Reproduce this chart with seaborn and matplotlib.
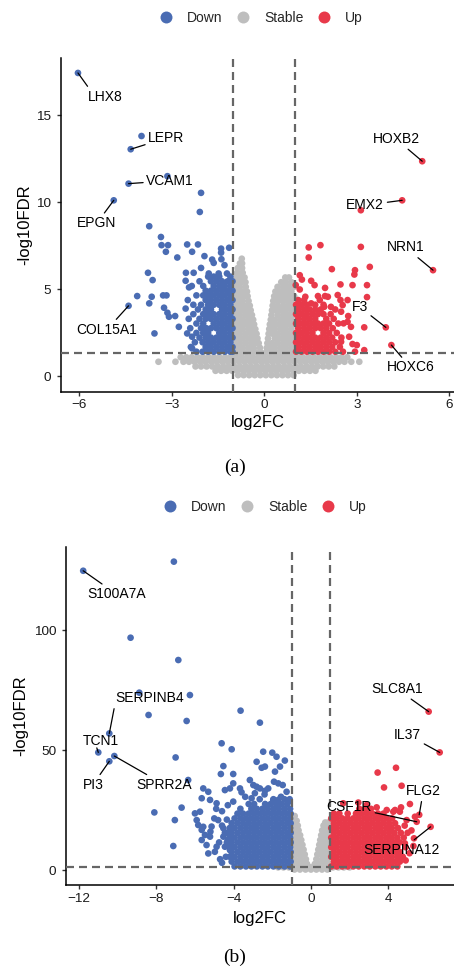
import matplotlib
matplotlib.use("Agg")
import matplotlib.pyplot as plt
from matplotlib.lines import Line2D
import pandas as pd
import seaborn as sns

# ---------------- Panel (a) data ----------------
# Stable genes: rows of (-log10FDR, [log2FC, ...]) read from the dense grey cloud
grey_a_rows = [
    (0.05, [-0.85, -0.67, -0.49, -0.31, -0.13, 0.05, 0.23, 0.41, 0.59, 0.77, 0.95]),
    (0.30, [-1.58, -1.40, -1.22, -1.04, -0.86, -0.68, -0.50, -0.32, -0.14, 0.04, 0.22, 0.40, 0.58, 0.76, 0.94, 1.12, 1.30, 1.48, 1.66]),
    (0.55, [-2.23, -2.05, -1.87, -1.69, -1.51, -1.33, -1.15, -0.97, -0.79, -0.61, -0.43, -0.25, -0.07, 0.11, 0.29, 0.47, 0.65, 0.83, 1.01, 1.19, 1.37, 1.55, 1.73, 1.91, 2.09, 2.27]),
    (0.82, [-3.43, -2.88, -2.62, -2.44, -2.26, -2.08, -1.90, -1.72, -1.54, -1.36, -1.18, -1.00, -0.82, -0.64, -0.46, -0.28, -0.10, 0.08, 0.26, 0.44, 0.62, 0.80, 0.98, 1.16, 1.34, 1.52, 1.70, 1.88, 2.06, 2.24, 2.42, 2.60, 2.82, 3.08]),
    (1.08, [-2.71, -2.53, -2.35, -2.17, -1.99, -1.81, -1.63, -1.45, -1.27, -1.09, -0.91, -0.73, -0.55, -0.37, -0.19, -0.01, 0.17, 0.35, 0.53, 0.71, 0.89, 1.07, 1.25, 1.43, 1.61, 1.79, 1.97, 2.15, 2.33, 2.51, 2.69]),
    (1.35, [-0.97, -0.79, -0.61, -0.43, -0.25, -0.11, 0.05, 0.25, 0.43, 0.61, 0.79, 0.97]),
    (1.62, [-0.88, -0.70, -0.52, -0.34, -0.14, 0.08, 0.16, 0.34, 0.52, 0.70, 0.88]),
    (1.89, [-0.97, -0.79, -0.61, -0.43, -0.30, -0.18, 0.10, 0.25, 0.43, 0.61, 0.79, 0.97]),
    (2.16, [-0.88, -0.70, -0.52, -0.36, -0.22, 0.12, 0.34, 0.52, 0.70, 0.88]),
    (2.43, [-0.97, -0.79, -0.61, -0.43, -0.25, 0.14, 0.27, 0.43, 0.61, 0.79, 0.97]),
    (2.70, [-0.88, -0.70, -0.52, -0.40, -0.29, 0.16, 0.34, 0.52, 0.70, 0.88]),
    (2.97, [-0.97, -0.79, -0.61, -0.46, -0.33, 0.18, 0.30, 0.43, 0.61, 0.79, 0.97]),
    (3.24, [-0.88, -0.70, -0.52, -0.36, 0.21, 0.34, 0.52, 0.70, 0.88]),
    (3.51, [-0.97, -0.79, -0.61, -0.50, -0.40, 0.23, 0.43, 0.61, 0.79, 0.97]),
    (3.78, [-0.88, -0.70, -0.56, -0.44, 0.25, 0.36, 0.52, 0.70, 0.88]),
    (4.05, [-0.97, -0.79, -0.62, -0.47, 0.27, 0.43, 0.61, 0.79, 0.97]),
    (4.32, [-0.88, -0.70, -0.51, 0.29, 0.43, 0.58, 0.73, 0.88]),
    (4.59, [-0.97, -0.79, -0.64, -0.54, 0.32, 0.46, 0.61, 0.79, 0.97]),
    (4.86, [-0.88, -0.72, -0.56, 0.36, 0.52, 0.70, 0.88]),
    (5.13, [-0.97, -0.79, -0.60, 0.43, 0.61, 0.79, 0.97]),
    (5.40, [-0.88, -0.74, -0.61, 0.55, 0.70, 0.88]),
    (5.67, [-0.97, -0.79, -0.64, 0.68, 0.80]),
    (5.94, [-0.88, -0.70]),
    (6.21, [-0.86, -0.72]),
    (6.48, [-0.79, -0.72]),
    (6.75, [-0.73]),
]
# Down-regulated genes: isolated points (log2FC, -log10FDR)
blue_a_pts = [
    (-6.04, 17.44), (-3.98, 13.81), (-4.33, 13.05), (-4.40, 11.07), (-3.14, 11.50), (-2.05, 10.54),
    (-2.09, 9.44), (-4.88, 10.11), (-3.73, 8.62), (-3.35, 8.00), (-3.33, 7.53), (-3.12, 7.53),
    (-3.19, 7.15), (-2.82, 6.82), (-2.50, 7.57), (-2.15, 7.57), (-2.34, 7.15), (-1.94, 6.90),
    (-1.64, 6.51), (-1.40, 7.33), (-1.14, 7.38), (-1.40, 7.10), (-1.39, 6.72), (-1.69, 6.70),
    (-1.29, 6.38), (-2.05, 6.22), (-1.80, 5.90), (-1.48, 5.90), (-1.21, 5.90), (-3.77, 5.94),
    (-3.62, 5.52), (-4.12, 4.60), (-3.65, 4.56), (-3.73, 4.18), (-3.28, 4.64), (-3.17, 4.64),
    (-3.25, 3.93), (-3.14, 3.64), (-2.89, 3.45), (-3.09, 3.41), (-2.77, 2.83), (-3.56, 2.45),
    (-2.54, 5.94), (-2.29, 5.94), (-2.55, 5.48), (-2.44, 5.10), (-2.55, 3.88), (-2.50, 2.45),
    (-2.34, 2.26), (-2.34, 1.59), (-4.40, 4.04),
]
# Down-regulated genes: dense cluster rows
blue_a_rows = [
    (1.40, [-2.20, -2.00, -1.82, -1.64, -1.46, -1.28, -1.10, -1.03]),
    (1.67, [-2.38, -1.90, -1.73, -1.55, -1.37, -1.19, -1.03]),
    (1.94, [-2.25, -2.00, -1.82, -1.64, -1.46, -1.28, -1.10]),
    (2.21, [-2.10, -1.90, -1.73, -1.55, -1.37, -1.19, -1.03]),
    (2.48, [-2.20, -1.98, -1.82, -1.46, -1.28, -1.10]),
    (2.75, [-2.40, -2.05, -1.88, -1.73, -1.55, -1.37, -1.19, -1.03]),
    (3.02, [-2.20, -1.98, -1.64, -1.46, -1.28, -1.10]),
    (3.29, [-2.45, -2.10, -1.90, -1.73, -1.55, -1.37, -1.19, -1.03]),
    (3.56, [-2.30, -1.98, -1.82, -1.64, -1.46, -1.28, -1.10]),
    (3.83, [-2.15, -1.90, -1.73, -1.37, -1.19, -1.03]),
    (4.10, [-2.30, -2.05, -1.82, -1.64, -1.46, -1.28, -1.10]),
    (4.37, [-2.48, -1.90, -1.73, -1.55, -1.37, -1.19, -1.03]),
    (4.64, [-2.20, -1.98, -1.82, -1.64, -1.46, -1.28, -1.10]),
    (4.91, [-1.90, -1.73, -1.55, -1.37, -1.19, -1.03]),
    (5.18, [-2.35, -1.98, -1.64, -1.46, -1.28, -1.10]),
    (5.45, [-2.10, -1.73, -1.55, -1.37, -1.19, -1.03]),
    (5.72, [-1.82, -1.64, -1.46, -1.10]),
]
# Up-regulated genes: isolated points
red_a_pts = [
    (5.12, 12.36), (4.47, 10.11), (3.13, 9.54), (5.47, 6.09), (3.94, 2.80), (4.12, 1.78),
    (1.44, 7.40), (1.82, 7.53), (1.44, 6.82), (3.13, 7.43), (2.19, 6.15), (2.94, 6.09),
    (3.42, 6.28), (2.92, 5.84), (1.22, 5.55), (1.52, 5.48), (1.63, 5.23), (1.97, 5.07),
    (2.47, 5.27), (2.86, 5.23), (3.33, 5.23), (1.15, 4.98), (1.15, 5.80), (1.02, 5.23),
    (1.33, 4.56), (1.74, 4.60), (1.97, 4.60), (2.06, 4.56), (2.38, 4.66), (2.47, 4.37),
    (2.70, 4.37), (3.33, 4.54), (2.54, 4.08), (1.52, 4.18), (1.94, 3.98), (2.16, 3.98),
    (2.49, 3.70), (2.72, 3.45), (2.70, 3.12), (2.57, 3.03), (2.81, 2.83), (3.24, 2.80),
    (2.75, 2.26), (2.49, 1.97), (2.86, 1.84), (3.00, 1.78), (2.94, 1.40), (3.24, 1.49),
]
red_a_rows = [
    (1.40, [1.03, 1.20, 1.38, 1.56, 1.74, 1.92, 2.10, 2.30, 2.55]),
    (1.67, [1.10, 1.29, 1.47, 1.65, 1.83, 2.01, 2.20, 2.45]),
    (1.94, [1.03, 1.20, 1.38, 1.56, 1.74, 1.92, 2.10, 2.30]),
    (2.21, [1.10, 1.29, 1.47, 1.65, 1.83, 2.01, 2.20, 2.50]),
    (2.48, [1.03, 1.20, 1.38, 1.56, 1.92, 2.10, 2.35]),
    (2.75, [1.10, 1.29, 1.47, 1.65, 1.83, 2.01, 2.22]),
    (3.02, [1.03, 1.20, 1.38, 1.56, 1.74, 1.92, 2.10, 2.40]),
    (3.29, [1.10, 1.29, 1.47, 1.65, 2.01, 2.25]),
    (3.56, [1.03, 1.20, 1.38, 1.56, 1.74, 1.92, 2.15]),
    (3.83, [1.10, 1.29, 1.47, 1.65, 1.83, 2.30]),
    (4.10, [1.03, 1.20, 1.38, 1.65, 1.92]),
    (4.37, [1.10, 1.29, 1.80]),
]
genes_a = ["LHX8", "LEPR", "VCAM1", "EPGN", "COL15A1", "HOXB2", "EMX2", "NRN1", "F3", "HOXC6"]
genes_a_fc = [-6.04, -4.33, -4.40, -4.88, -4.40, 5.12, 4.47, 5.47, 3.94, 4.12]
genes_a_fdr = [17.44, 13.05, 11.07, 10.11, 4.04, 12.36, 10.11, 6.09, 2.80, 1.78]

# ---------------- Panel (b) data ----------------
grey_b_rows = [
    (0.2, [-0.85, -0.57, -0.28, 0.00, 0.28, 0.57, 0.85]),
    (1.1, [-1.70, -1.42, -1.14, -0.86, -0.57, -0.28, 0.00, 0.28, 0.57, 0.86, 1.14, 1.42, 1.70, 2.00]),
    (2.5, [-0.97, -0.69, -0.41, -0.20, 0.20, 0.45, 0.72, 0.97]),
    (4.5, [-0.83, -0.55, -0.26, 0.28, 0.58, 0.86]),
    (6.5, [-0.97, -0.69, -0.45, -0.32, 0.33, 0.47, 0.72, 0.97]),
    (8.5, [-0.83, -0.58, -0.38, 0.38, 0.60, 0.86]),
    (10.5, [-0.97, -0.69, -0.44, 0.43, 0.70, 0.97]),
    (12.5, [-0.83, -0.64, -0.50, 0.48, 0.66, 0.86]),
    (14.5, [-0.97, -0.72, -0.56, 0.53, 0.75, 0.97]),
    (16.5, [-0.83, -0.64, 0.58, 0.80]),
    (18.5, [-0.97, -0.76, -0.68, 0.65, 0.85, 0.97]),
    (19.8, [0.74, 0.90]),
    (20.5, [-0.86, -0.74]),
    (22.5, [-0.97, -0.84]),
]
blue_b_pts = [
    (-11.78, 124.7), (-7.09, 128.5), (-9.33, 96.8), (-6.86, 87.5), (-8.88, 73.9), (-6.26, 72.9),
    (-8.40, 64.6), (-6.43, 62.1), (-3.64, 66.4), (-2.64, 61.4), (-10.43, 56.9), (-11.00, 49.0),
    (-10.43, 45.3), (-10.17, 47.5), (-7.00, 46.9), (-4.62, 52.8), (-4.10, 50.3), (-2.47, 49.3),
    (-2.00, 48.9), (-1.35, 45.6), (-1.78, 47.2), (-1.60, 43.1), (-2.81, 45.1), (-2.55, 42.6),
    (-2.38, 43.1), (-1.86, 41.0), (-4.53, 43.3), (-4.02, 40.0), (-4.66, 40.0), (-6.35, 37.5),
    (-3.16, 37.5), (-2.98, 35.4), (-2.81, 34.7), (-2.38, 33.0), (-1.91, 36.8), (-1.46, 35.4),
    (-1.26, 32.6), (-1.69, 29.2), (-3.67, 34.0), (-4.02, 36.1), (-4.45, 33.3), (-4.19, 34.0),
    (-5.57, 34.0), (-5.31, 32.6), (-5.65, 29.9), (-5.22, 29.2), (-4.88, 27.8), (-8.10, 24.0),
    (-7.04, 20.8), (-7.12, 10.0), (-6.69, 26.0), (-6.00, 23.6), (-5.91, 20.8), (-5.74, 24.3),
    (-3.59, 32.4), (-4.02, 28.5), (-5.83, 18.75), (-5.65, 16.7), (-5.57, 18.0), (-5.14, 18.1),
    (-4.80, 20.8), (-4.53, 17.4), (-5.48, 14.6), (-5.22, 13.9), (-5.65, 12.5), (-5.40, 10.4),
    (-4.88, 9.7), (-5.31, 6.9), (-4.97, 7.6), (-4.53, 13.9), (-4.45, 9.7), (-4.19, 8.3),
    (-2.64, 34.0), (-2.21, 34.0), (-1.69, 36.1), (-1.95, 29.2), (-3.07, 29.9), (-2.40, 31.5),
    (-1.55, 30.5), (-2.90, 32.0), (-3.40, 30.5), (-1.15, 28.5), (-4.40, 5.5), (-4.60, 3.0),
    (-4.30, 12.5), (-4.45, 15.5), (-4.35, 21.0), (-4.60, 24.5), (-4.30, 27.0), (-5.00, 21.5),
    (-4.90, 25.5), (-5.20, 16.0), (-4.75, 11.5), (-4.60, 18.5), (-4.70, 4.5),
]
blue_b_rows = [
    (1.5, [-3.95, -3.65, -3.36, -3.08, -2.80, -2.51, -2.23, -1.94, -1.66, -1.37, -1.08]),
    (3.5, [-4.10, -3.80, -3.51, -3.22, -2.94, -2.65, -2.37, -2.08, -1.80, -1.51, -1.23, -1.05]),
    (5.5, [-4.20, -3.95, -3.65, -3.36, -3.08, -2.80, -2.51, -2.23, -1.94, -1.66, -1.37, -1.08]),
    (7.5, [-4.10, -3.80, -3.51, -3.22, -2.94, -2.65, -2.37, -2.08, -1.80, -1.51, -1.23, -1.05]),
    (9.5, [-4.20, -3.95, -3.65, -3.36, -3.08, -2.80, -2.51, -2.23, -1.94, -1.66, -1.37, -1.08]),
    (11.5, [-4.35, -4.10, -3.80, -3.51, -3.22, -2.94, -2.65, -2.37, -2.08, -1.80, -1.51, -1.23, -1.05]),
    (13.5, [-4.20, -3.95, -3.65, -3.36, -3.08, -2.80, -2.51, -2.23, -1.94, -1.66, -1.37, -1.08]),
    (15.5, [-4.35, -4.10, -3.80, -3.51, -3.22, -2.94, -2.65, -2.37, -2.08, -1.80, -1.51, -1.23, -1.05]),
    (17.5, [-4.20, -3.95, -3.65, -3.36, -3.08, -2.80, -2.51, -2.23, -1.94, -1.66, -1.37, -1.08]),
    (19.5, [-4.10, -3.80, -3.51, -3.22, -2.94, -2.65, -2.37, -2.08, -1.80, -1.51, -1.23, -1.05]),
    (21.5, [-3.95, -3.65, -3.36, -3.08, -2.80, -2.51, -2.23, -1.94, -1.66, -1.37, -1.08]),
    (23.5, [-3.80, -3.51, -3.22, -2.94, -2.65, -2.37, -2.08, -1.80, -1.51, -1.23, -1.05]),
    (25.5, [-3.65, -3.08, -2.80, -2.51, -2.23, -1.94, -1.66, -1.37, -1.08]),
    (27.5, [-3.22, -2.94, -2.37, -2.08, -1.80, -1.51, -1.23]),
    (29.5, [-2.65, -1.94, -1.37, -1.10]),
]
red_b_pts = [
    (6.09, 66.0), (6.66, 49.0), (5.60, 23.0), (5.47, 20.1), (6.19, 18.0), (3.45, 40.6),
    (4.40, 42.6), (3.78, 34.4), (4.69, 35.1), (5.12, 27.5), (4.66, 26.1), (4.26, 24.3),
    (4.60, 24.3), (5.33, 13.2), (4.95, 20.8), (5.38, 22.2), (4.86, 11.1), (5.30, 10.0),
    (5.10, 7.0), (4.90, 4.0), (5.20, 16.5), (4.85, 18.5), (1.67, 27.8), (2.45, 28.1),
    (2.88, 27.1), (3.40, 26.1), (3.92, 25.0), (4.35, 25.0),
]
red_b_rows = [
    (1.5, [1.05, 1.33, 1.62, 1.90, 2.19, 2.47, 2.76, 3.04, 3.33, 3.61, 3.90, 4.18, 4.47]),
    (3.5, [1.19, 1.47, 1.76, 2.04, 2.33, 2.61, 2.90, 3.18, 3.47, 3.75, 4.04, 4.32, 4.60]),
    (5.5, [1.05, 1.33, 1.62, 1.90, 2.19, 2.47, 2.76, 3.04, 3.33, 3.61, 3.90, 4.18, 4.47, 4.75]),
    (7.5, [1.19, 1.47, 1.76, 2.04, 2.33, 2.61, 2.90, 3.18, 3.47, 3.75, 4.04, 4.32, 4.60]),
    (9.5, [1.05, 1.33, 1.62, 1.90, 2.19, 2.47, 2.76, 3.04, 3.33, 3.61, 3.90, 4.18, 4.47, 4.90]),
    (11.5, [1.19, 1.47, 1.76, 2.04, 2.33, 2.61, 2.90, 3.18, 3.47, 3.75, 4.04, 4.32, 4.60]),
    (13.5, [1.05, 1.33, 1.62, 1.90, 2.19, 2.47, 2.76, 3.04, 3.33, 3.61, 3.90, 4.18, 4.47, 4.80]),
    (15.5, [1.19, 1.47, 1.76, 2.04, 2.33, 2.61, 2.90, 3.18, 3.47, 3.75, 4.04, 4.32, 4.65, 5.00]),
    (17.5, [1.05, 1.33, 1.62, 1.90, 2.19, 2.47, 2.76, 3.04, 3.33, 3.61, 3.90, 4.18, 4.50]),
    (19.5, [1.19, 1.47, 1.76, 2.04, 2.33, 2.61, 2.90, 3.18, 3.47, 3.75, 4.04, 4.35]),
    (21.5, [1.05, 1.33, 1.62, 1.90, 2.19, 2.47, 2.76, 3.04, 3.33, 3.61, 3.90, 4.20]),
    (23.5, [1.19, 1.47, 1.90, 2.33, 2.61, 2.90, 3.18, 3.47, 3.75]),
    (25.5, [2.50, 2.80, 3.10]),
]
genes_b = ["S100A7A", "SERPINB4", "TCN1", "PI3", "SPRR2A", "SLC8A1", "IL37", "FLG2", "CSF1R", "SERPINA12"]
genes_b_fc = [-11.78, -10.43, -11.00, -10.43, -10.17, 6.09, 6.66, 5.60, 5.47, 6.19]
genes_b_fdr = [124.7, 56.9, 49.0, 45.3, 47.5, 66.0, 49.0, 23.0, 20.1, 18.0]

categories = ["Down", "Stable", "Up"]
fc_cut = 1.0
fdr_cut = 1.30103

# ---------------- styling / layout ----------------
palette = {"Down": "#4A6CB3", "Stable": "#BEBEBE", "Up": "#E8394A"}
W, H = 454, 971


def rows_to_df(rows, cat):
    xs, ys = [], []
    for yv, xl in rows:
        xs += list(xl)
        ys += [yv] * len(xl)
    return pd.DataFrame({"log2FC": xs, "nlogFDR": ys, "change": cat})


def pts_to_df(pts, cat):
    return pd.DataFrame({"log2FC": [p[0] for p in pts], "nlogFDR": [p[1] for p in pts], "change": cat})


def rect(left, top, right, bottom):
    return [left / W, 1 - bottom / H, (right - left) / W, (bottom - top) / H]


sns.set_theme(style="ticks")
plt.rcParams["font.family"] = ["Liberation Sans", "DejaVu Sans"]

fig = plt.figure(figsize=(W / 100, H / 100), dpi=100)

panels = [
    dict(df=pd.concat([rows_to_df(grey_a_rows, "Stable"), pts_to_df(blue_a_pts, "Down"),
                       rows_to_df(blue_a_rows, "Down"), pts_to_df(red_a_pts, "Up"),
                       rows_to_df(red_a_rows, "Up")], ignore_index=True),
         box=(61, 58, 454, 392), xlim=(-6.59, 6.15), ylim=(-0.92, 18.3),
         xticks=[-6, -3, 0, 3, 6], yticks=[0, 5, 10, 15],
         genes=genes_a, gfc=genes_a_fc, gfdr=genes_a_fdr,
         lab=[(-5.17, 16.08), (-3.17, 13.70), (-3.05, 11.24), (-5.43, 8.79), (-5.10, 2.67),
              (4.27, 13.64), (3.27, 9.83), (4.58, 7.40), (3.09, 3.98), (4.74, 0.49)],
         relpos=[(0.1, 0.9), None, None, None, None, None, None, None, None, None],
         ylab_x=24.5, xlab_y=423, leg=(261, 18), cap=("(a)", 235, 467)),
    dict(df=pd.concat([rows_to_df(grey_b_rows, "Stable"), pts_to_df(blue_b_pts, "Down"),
                       rows_to_df(blue_b_rows, "Down"), pts_to_df(red_b_pts, "Up"),
                       rows_to_df(red_b_rows, "Up")], ignore_index=True),
         box=(66, 547, 454, 885), xlim=(-12.67, 7.40), ylim=(-6.25, 134.6),
         xticks=[-12, -8, -4, 0, 4], yticks=[0, 50, 100],
         genes=genes_b, gfc=genes_b_fc, gfdr=genes_b_fdr,
         lab=[(-10.05, 114.9), (-8.34, 71.5), (-10.89, 53.8), (-11.28, 35.5), (-7.57, 35.5),
              (4.44, 75.5), (4.99, 56.4), (5.81, 32.8), (1.98, 26.2), (4.67, 8.3)],
         relpos=[None, (0.0, 0.25), "tcn", None, None, None, None, None, None, None],
         ylab_x=21, xlab_y=918, leg=(265, 507), cap=("(b)", 235, 957)),
]

for p in panels:
    l, t, r, b = p["box"]
    ax = fig.add_axes(rect(l, t, r, b))
    sns.scatterplot(data=p["df"], x="log2FC", y="nlogFDR", hue="change", palette=palette,
                    hue_order=categories, s=23, linewidth=0, legend=False, ax=ax, zorder=2)
    ax.set_xlim(*p["xlim"])
    ax.set_ylim(*p["ylim"])
    ax.set_xticks(p["xticks"])
    ax.set_yticks(p["yticks"])
    sns.despine(ax=ax)
    for sp in ("left", "bottom"):
        ax.spines[sp].set_linewidth(1.1)
        ax.spines[sp].set_color("black")
    ax.tick_params(axis="both", length=2.9, width=1.0, color="#333333", labelsize=9.7,
                   labelcolor="#1a1a1a")
    ax.tick_params(axis="y", pad=4)
    ax.tick_params(axis="x", pad=2.5)
    dash = (0, (3.6, 2.25))
    for v in (-fc_cut, fc_cut):
        ax.axvline(v, color="#666666", lw=1.6, ls=dash, zorder=3)
    ax.axhline(fdr_cut, color="#666666", lw=1.6, ls=dash, zorder=3)

    # labels with leader segments
    for g, gx, gy, (tx, ty), rp in zip(p["genes"], p["gfc"], p["gfdr"], p["lab"], p["relpos"]):
        ap = dict(arrowstyle="-", color="black", lw=0.9, shrinkA=0, shrinkB=0)
        if rp == "tcn":
            ap["relpos"] = (0.4, 0.0)
            ap["patchA"] = None
        elif rp is not None:
            ap["relpos"] = rp
        ax.annotate(g, xy=(gx, gy), xytext=(tx, ty), ha="center", va="center",
                    fontsize=10, color="black", arrowprops=ap, zorder=5,
                    annotation_clip=False)

    ax.set_xlabel("log2FC", fontsize=12, color="black")
    ax.set_ylabel("-log10FDR", fontsize=12, color="black")
    ax.xaxis.label.set_va("center")
    ax.yaxis.label.set_va("center")
    ax.xaxis.set_label_coords(0.5, (b - p["xlab_y"]) / (b - t))
    ax.yaxis.set_label_coords((p["ylab_x"] - l) / (r - l), 0.5)

    handles = [Line2D([], [], marker="o", ls="", color=palette[c], markersize=8.6,
                      markeredgewidth=0) for c in categories]
    fig.legend(handles, categories, loc="center", ncol=3, frameon=False,
               bbox_to_anchor=(p["leg"][0] / W, 1 - p["leg"][1] / H),
               fontsize=10, handlelength=1.0, handletextpad=1.0, columnspacing=1.0)

    txt, cx, cy = p["cap"]
    fig.text(cx / W, 1 - cy / H, txt, ha="center", va="center",
             family=["Liberation Serif", "DejaVu Serif"], fontsize=14, color="black")

fig.savefig("out.png", dpi=100)
